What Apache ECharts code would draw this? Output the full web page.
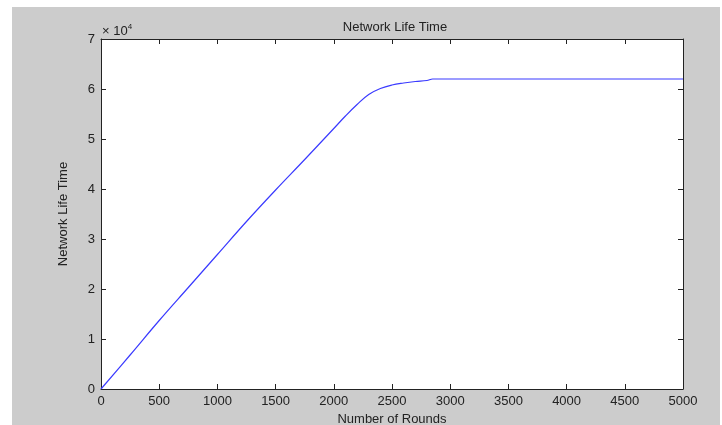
<!DOCTYPE html>
<html>
<head>
<meta charset="utf-8">
<script src="https://cdn.jsdelivr.net/npm/echarts@6/dist/echarts.min.js"></script>
<style>
  html, body { margin: 0; padding: 0; background: #fff; }
  #main { width: 722px; height: 425px; }
</style>
</head>
<body>
<div id="main"></div>
<script>
// rounds (x) and network life time (y)
var rounds = [0, 250, 500, 750, 1000, 1250, 1500, 1750, 2000, 2100, 2200, 2300, 2400, 2500, 2600, 2700, 2800, 2850, 3000, 4000, 5000];
var lifeTime = [0, 6800, 13700, 20300, 26900, 33500, 39800, 45900, 52100, 54600, 56900, 58900, 60100, 60800, 61200, 61500, 61700, 62000, 62000, 62000, 62000];
var yTicks = [0, 1, 2, 3, 4, 5, 6, 7];

var points = rounds.map(function (r, i) { return [r, lifeTime[i]]; });

var myChart = echarts.init(document.getElementById('main'));

var font = 'Liberation Sans, Arial, sans-serif';
var labelFont = { color: '#222', fontFamily: font, fontSize: 13 };
var axisLine = { show: true, onZero: false, lineStyle: { color: '#222', width: 1 } };
var tick = { show: true, inside: true, length: 5, lineStyle: { color: '#222' } };

var option = {
    animation: false,
    backgroundColor: '#fff',
    title: {
        text: 'Network Life Time',
        left: 390,
        top: 16,
        textAlign: 'center',
        textStyle: { fontSize: 13, fontWeight: 'normal', color: '#222', fontFamily: font }
    },
    graphic: [
        {
            type: 'rect',
            z: -10,
            silent: true,
            shape: { x: 12, y: 7, width: 708, height: 418 },
            style: { fill: '#cccccc' }
        },
        {
            type: 'text',
            left: 102,
            top: 23,
            style: {
                text: '{a|× 10}{b|4}',
                rich: {
                    a: { fontSize: 13, fill: '#222', fontFamily: font },
                    b: { fontSize: 8, fill: '#222', verticalAlign: 'top', padding: [0, 0, 8, 0], fontFamily: font }
                }
            }
        }
    ],
    grid: {
        left: 101,
        right: 39,
        top: 39,
        bottom: 36,
        outerBoundsMode: 'none',
        containLabel: false,
        show: true,
        backgroundColor: '#fff',
        borderWidth: 0
    },
    xAxis: [
        {
            type: 'value',
            min: 0,
            max: 5000,
            interval: 500,
            name: 'Number of Rounds',
            nameLocation: 'middle',
            nameGap: 23,
            nameTextStyle: { fontSize: 13, color: '#222', fontFamily: font },
            axisLine: axisLine,
            axisTick: tick,
            axisLabel: Object.assign({ margin: 6, formatter: function (v) { return String(v); } }, labelFont),
            splitLine: { show: false }
        },
        {
            type: 'value',
            position: 'top',
            min: 0,
            max: 5000,
            interval: 500,
            axisLine: axisLine,
            axisTick: tick,
            axisLabel: { show: false },
            splitLine: { show: false }
        }
    ],
    yAxis: [
        {
            type: 'value',
            min: 0,
            max: 70000,
            interval: 10000,
            name: 'Network Life Time',
            nameLocation: 'middle',
            nameGap: 31,
            nameTextStyle: { fontSize: 13, color: '#222', fontFamily: 'Liberation Sans Narrow, Liberation Sans, Arial, sans-serif' },
            axisLine: axisLine,
            axisTick: tick,
            axisLabel: Object.assign({
                margin: 6,
                formatter: function (v) { return yTicks[Math.round(v / 10000)]; }
            }, labelFont),
            splitLine: { show: false }
        },
        {
            type: 'value',
            position: 'right',
            min: 0,
            max: 70000,
            interval: 10000,
            axisLine: axisLine,
            axisTick: tick,
            axisLabel: { show: false },
            splitLine: { show: false }
        }
    ],
    series: [
        {
            type: 'line',
            data: points,
            showSymbol: false,
            smooth: 0.4,
            lineStyle: { color: '#3a3aff', width: 1.2 }
        },
        {
            // invisible copy so the top/right axes get drawn
            type: 'line',
            xAxisIndex: 1,
            yAxisIndex: 1,
            data: points,
            showSymbol: false,
            silent: true,
            lineStyle: { opacity: 0 }
        }
    ]
};

myChart.setOption(option);
</script>
</body>
</html>
